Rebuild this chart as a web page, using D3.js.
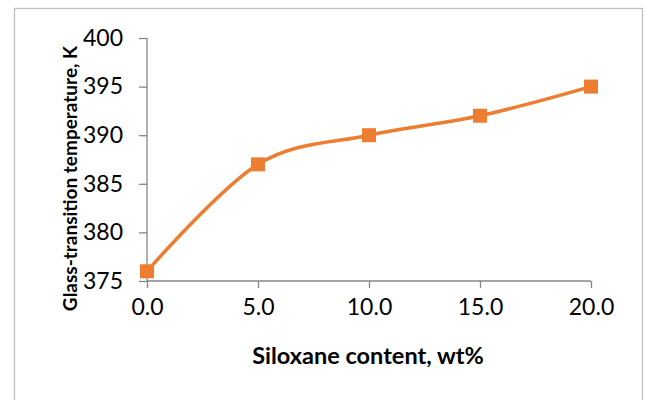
<!DOCTYPE html>
<html>
<head>
<meta charset="utf-8">
<script src="https://cdn.jsdelivr.net/npm/d3@7"></script>
<style>
  html, body { margin: 0; padding: 0; background: #fff; }
  svg { display: block; }
</style>
</head>
<body>
<svg id="chart" width="646" height="400"></svg>
<script>
const siloxaneContent = [0, 5, 10, 15, 20];
const glassTransition = [376, 387, 390, 392, 395];
const xTicks = [0, 5, 10, 15, 20];
const yTicks = [375, 380, 385, 390, 395, 400];
const xTitle = "Siloxane content, wt%";
const yTitle = "Glass-transition temperature, K";

const svg = d3.select("#chart");
const font = "Lato, 'Open Sans', sans-serif";

svg.append("rect").attr("x", 14.5).attr("y", 8.5).attr("width", 628).attr("height", 400)
  .attr("fill", "#fff").attr("stroke", "#bfbfbf").attr("stroke-width", 1.3);

const x = d3.scaleLinear().domain([0, 20]).range([147, 591]);
const y = d3.scaleLinear().domain([375, 400]).range([281, 38]);

const axisColor = "#868686";

const yAxis = svg.append("g").attr("transform", "translate(147,0)")
  .call(d3.axisLeft(y).tickValues(yTicks).tickSize(8).tickPadding(16).tickFormat(d3.format("d")));
const xAxis = svg.append("g").attr("transform", "translate(0,281)")
  .call(d3.axisBottom(x).tickValues(xTicks).tickSize(7).tickPadding(11).tickFormat(d3.format(".1f")));

[xAxis, yAxis].forEach(g => {
  g.select(".domain").attr("stroke", axisColor).attr("stroke-width", 1.3);
  g.selectAll(".tick line").attr("stroke", axisColor).attr("stroke-width", 1.3);
  g.selectAll(".tick text").attr("fill", "#000").style("font-family", font).style("font-size", "23px");
});
yAxis.select(".domain").attr("d", `M0,${y(400)}V${y(375)}`);
xAxis.select(".domain").attr("d", `M${x(0)},0H${x(20)}`);

const pts = siloxaneContent.map((v, i) => [x(v), y(glassTransition[i])]);
const line = d3.line().curve(d3.curveCardinal.tension(0));
svg.append("path").attr("d", line(pts)).attr("fill", "none")
  .attr("stroke", "#ED7D31").attr("stroke-width", 3.5).attr("stroke-linejoin", "round");

svg.selectAll("rect.marker").data(pts).enter().append("rect").attr("class", "marker")
  .attr("x", d => d[0] - 7).attr("y", d => d[1] - 7).attr("width", 14).attr("height", 14)
  .attr("fill", "#ED7D31");

svg.append("text").attr("x", 368).attr("y", 364).attr("text-anchor", "middle")
  .style("font-family", font).style("font-weight", "bold").style("font-size", "23.5px")
  .text(xTitle);

svg.append("text").attr("transform", "translate(77,178.5) rotate(-90)").attr("text-anchor", "middle")
  .style("font-family", font).style("font-weight", "bold").style("font-size", "19px")
  .text(yTitle);
</script>
</body>
</html>
